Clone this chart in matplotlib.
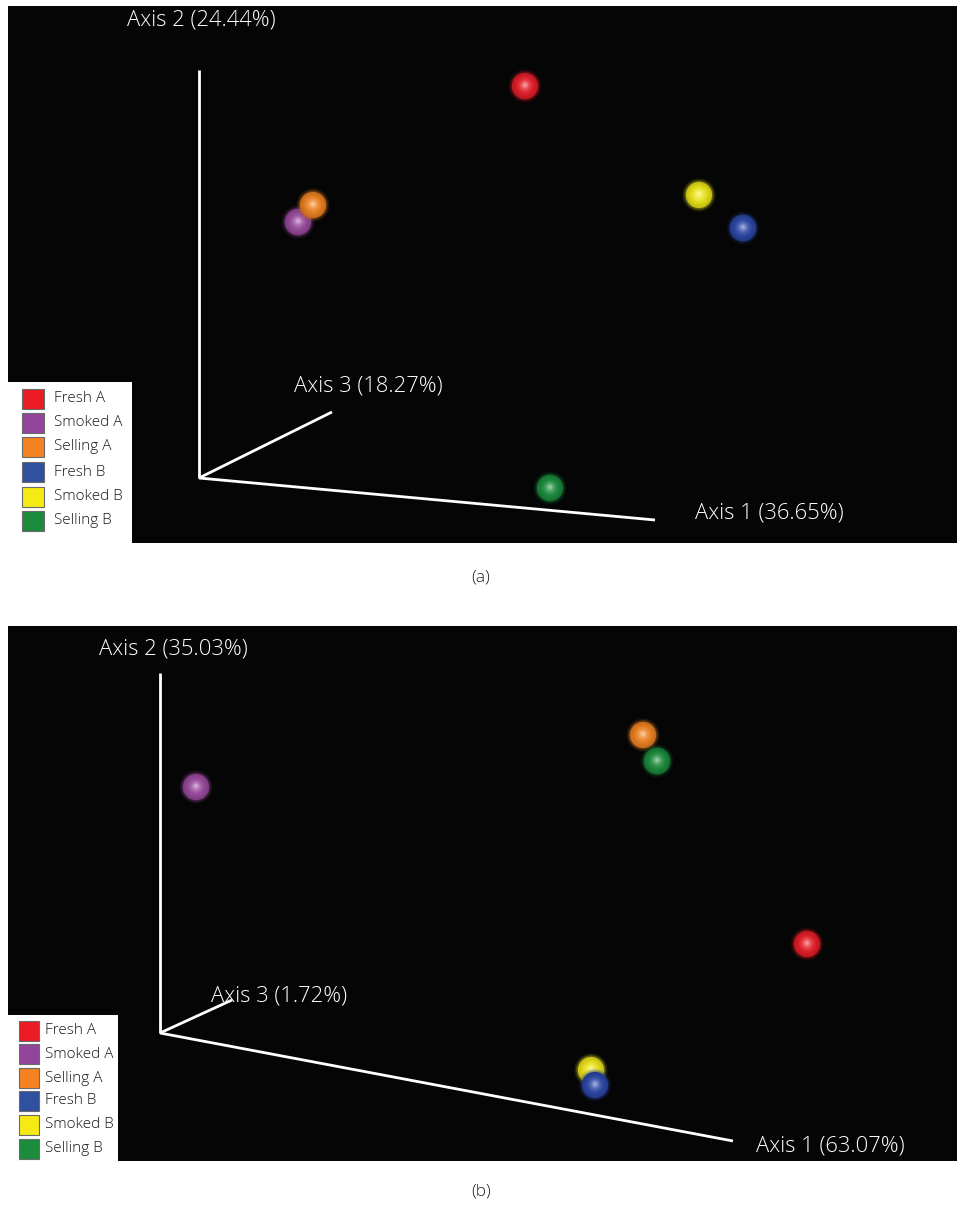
import matplotlib
matplotlib.use("Agg")
import matplotlib.pyplot as plt
from matplotlib.patches import Rectangle
import numpy as np

plt.rcParams['font.family'] = ['Open Sans', 'DejaVu Sans']

groups = ["Fresh A", "Smoked A", "Selling A", "Fresh B", "Smoked B", "Selling B"]
sphere_colors = ["#e61e28", "#9a4a9e", "#f08220", "#2c48a8", "#eee61a", "#1b8c3c"]
swatch_colors = ["#ec1c24", "#93459a", "#f58220", "#3050a0", "#f5ea14", "#1a8c3c"]

# Projected sample positions (screen units relative to the axes origin)
a_x = [326, 99, 114, 544, 500, 351]
a_y = [392, 256, 273, 250, 283, -10]
b_x = [647, 36, 483, 435, 431, 497]
b_y = [89, 246, 298, -52, -37, 272]

# Projected end points of the three ordination axes
a_axis_x = [456, 0, 133]
a_axis_y = [-42, 408, 66]
b_axis_x = [573, 0, 72]
b_axis_y = [-108, 360, 33]

a_labels = ["Axis 1 (36.65%)", "Axis 2 (24.44%)", "Axis 3 (18.27%)"]
b_labels = ["Axis 1 (63.07%)", "Axis 2 (35.03%)", "Axis 3 (1.72%)"]

W, H = 957, 1207
fig = plt.figure(figsize=(W / 100, H / 100), dpi=100)
fig.patch.set_facecolor("white")


def blend(c, t):
    rgb = np.array(matplotlib.colors.to_rgb(c))
    return tuple(rgb + (1 - rgb) * t)


def darken(c, t):
    rgb = np.array(matplotlib.colors.to_rgb(c))
    return tuple(rgb * (1 - t))


def draw_panel(px0, py0, px1, py1, ox, oy, xs, ys, ax_x, ax_y, labels,
               label_pos, leg_box, leg_rows, leg_sw, leg_gap, order):
    ax = fig.add_axes([px0 / W, 1 - py1 / H, (px1 - px0) / W, (py1 - py0) / H])
    ax.set_facecolor("#050505")
    ax.set_xlim(px0 - ox, px1 - ox)
    ax.set_ylim(oy - py1, oy - py0)
    ax.set_xticks([]); ax.set_yticks([])
    for s in ax.spines.values():
        s.set_visible(False)
    # axes lines
    for ex, ey in zip(ax_x, ax_y):
        ax.plot([0, ex], [0, ey], color="white", lw=2.0, solid_capstyle="butt", zorder=2)
    for lab, (lx, ly) in zip(labels, label_pos):
        ax.text(lx, ly, lab, color="white", fontsize=15.8, fontweight="light",
                ha="left", va="center", zorder=3)
    # spheres
    R = 19.0
    for i in order:
        c = sphere_colors[i]
        x, y = xs[i], ys[i]
        for g, a in [(1.25, 0.15), (1.12, 0.35)]:
            ax.scatter([x], [y], s=(R * g) ** 2, color=darken(c, 0.2), alpha=a,
                       edgecolors="none", zorder=4)
        n = 10
        for k in range(n):
            f = k / (n - 1)
            r = R * (1 - 0.85 * f)
            col = blend(darken(c, 0.18 * (1 - f) ** 2), 0.5 * f ** 3)
            ax.scatter([x], [y + 1.0 * f], s=r ** 2, color=col,
                       edgecolors="none", zorder=4)
    # legend
    lx0, ly0, lx1, ly1 = leg_box
    lax = fig.add_axes([lx0 / W, 1 - ly1 / H, (lx1 - lx0) / W, (ly1 - ly0) / H])
    lax.set_facecolor("white")
    lax.set_xlim(lx0, lx1); lax.set_ylim(ly1, ly0)
    lax.set_xticks([]); lax.set_yticks([])
    for s in lax.spines.values():
        s.set_visible(False)
    sx0, sx1, sh = leg_sw
    for g, c, yc in zip(groups, swatch_colors, leg_rows):
        lax.add_patch(Rectangle((sx0, yc - sh / 2), sx1 - sx0, sh, facecolor=c,
                                edgecolor="#6a6a6a", lw=0.8))
        lax.text(sx1 + leg_gap, yc, g, fontsize=11, fontweight="light",
                 color="#1a1a1a", va="center", ha="left")
    return ax


row_a = [399, 423, 447, 472, 497, 521]
row_b = [1031, 1054, 1078, 1101, 1125, 1149]

draw_panel(8, 6, 957, 543, 199, 478, a_x, a_y, a_axis_x, a_axis_y, a_labels,
           [(496, -35), (-72, 458), (95, 92)],
           (8, 382, 132, 543), row_a, (22, 44, 20), 10, [0, 1, 2, 3, 4, 5])
draw_panel(8, 626, 957, 1161, 160, 1033, b_x, b_y, b_axis_x, b_axis_y, b_labels,
           [(596, -113), (-61, 384), (51, 37)],
           (8, 1015, 118, 1162), row_b, (19, 39, 20), 6, [0, 1, 2, 5, 4, 3])

fig.text(481 / W, 1 - 578 / H, "(a)", fontsize=12.5, fontweight="light",
         color="#222222", ha="center", va="center")
fig.text(481 / W, 1 - 1191 / H, "(b)", fontsize=12.5, fontweight="light",
         color="#222222", ha="center", va="center")

fig.savefig("out.png", dpi=100, facecolor="white")
